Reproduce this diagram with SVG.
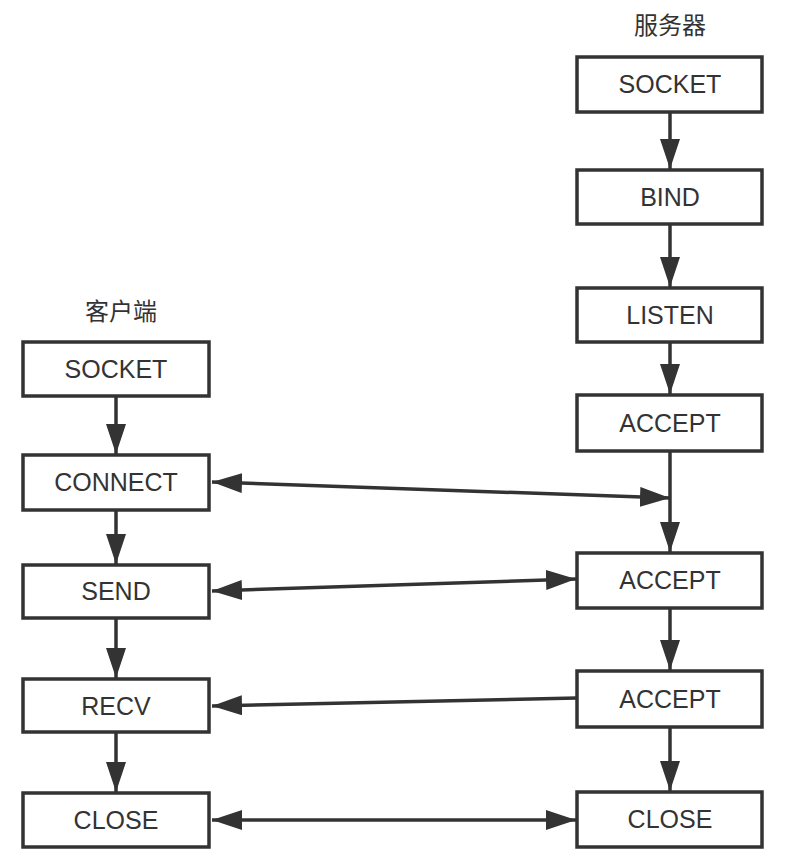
<svg xmlns="http://www.w3.org/2000/svg" width="786" height="866" viewBox="0 0 786 866">
<style>
.box{fill:#fff;stroke:#333;stroke-width:3.5}
.t{font-family:"Liberation Sans",Arial,sans-serif;font-size:25px;fill:#333;text-anchor:middle}
.cn{font-family:"Noto Sans CJK SC","Liberation Sans",sans-serif;font-size:24px;fill:#333;text-anchor:middle}
.c{stroke:#333;stroke-width:3.5;fill:none}
</style>
<defs>
<marker id="ah" markerUnits="userSpaceOnUse" markerWidth="32" markerHeight="22" refX="30" refY="10" orient="auto-start-reverse" viewBox="0 0 32 22">
<path d="M0,0 L30,10 L0,20 Z" fill="#333"/>
</marker>
</defs>
<rect width="786" height="866" fill="#fff"/>
<text class="cn" x="670" y="34">服务器</text>
<text class="cn" x="121" y="320">客户端</text>
<g id="connectors">
<line class="c" x1="670" y1="112" x2="670" y2="169" marker-end="url(#ah)"/>
<line class="c" x1="670" y1="224" x2="670" y2="287" marker-end="url(#ah)"/>
<line class="c" x1="670" y1="342" x2="670" y2="394" marker-end="url(#ah)"/>
<line class="c" x1="670" y1="451" x2="670" y2="552" marker-end="url(#ah)"/>
<line class="c" x1="670" y1="608" x2="670" y2="670" marker-end="url(#ah)"/>
<line class="c" x1="670" y1="727" x2="670" y2="791" marker-end="url(#ah)"/>
<line class="c" x1="116" y1="396" x2="116" y2="454" marker-end="url(#ah)"/>
<line class="c" x1="116" y1="510" x2="116" y2="564" marker-end="url(#ah)"/>
<line class="c" x1="116" y1="618" x2="116" y2="678" marker-end="url(#ah)"/>
<line class="c" x1="116" y1="732" x2="116" y2="792" marker-end="url(#ah)"/>
<line class="c" x1="212" y1="482" x2="670" y2="498" marker-start="url(#ah)" marker-end="url(#ah)"/>
<line class="c" x1="212" y1="591" x2="576" y2="579" marker-start="url(#ah)" marker-end="url(#ah)"/>
<line class="c" x1="577" y1="698" x2="212" y2="706" marker-end="url(#ah)"/>
<line class="c" x1="212" y1="820" x2="576" y2="820" marker-start="url(#ah)" marker-end="url(#ah)"/>
</g>
<g id="s-socket"><rect class="box" x="577" y="57" width="185" height="55"/><text class="t" x="670" y="93">SOCKET</text></g>
<g id="s-bind"><rect class="box" x="577" y="170" width="185" height="54"/><text class="t" x="670" y="206">BIND</text></g>
<g id="s-listen"><rect class="box" x="577" y="288" width="185" height="54"/><text class="t" x="670" y="324">LISTEN</text></g>
<g id="s-accept1"><rect class="box" x="577" y="395" width="185" height="56"/><text class="t" x="670" y="432">ACCEPT</text></g>
<g id="s-accept2"><rect class="box" x="577" y="553" width="185" height="55"/><text class="t" x="670" y="589">ACCEPT</text></g>
<g id="s-accept3"><rect class="box" x="577" y="671" width="185" height="56"/><text class="t" x="670" y="708">ACCEPT</text></g>
<g id="s-close"><rect class="box" x="577" y="792" width="185" height="55"/><text class="t" x="670" y="828">CLOSE</text></g>
<g id="c-socket"><rect class="box" x="23" y="342" width="186" height="54"/><text class="t" x="116" y="378">SOCKET</text></g>
<g id="c-connect"><rect class="box" x="23" y="455" width="186" height="55"/><text class="t" x="116" y="491">CONNECT</text></g>
<g id="c-send"><rect class="box" x="23" y="565" width="186" height="53"/><text class="t" x="116" y="600">SEND</text></g>
<g id="c-recv"><rect class="box" x="23" y="679" width="186" height="53"/><text class="t" x="116" y="715">RECV</text></g>
<g id="c-close"><rect class="box" x="23" y="793" width="186" height="54"/><text class="t" x="116" y="829">CLOSE</text></g>
</svg>
